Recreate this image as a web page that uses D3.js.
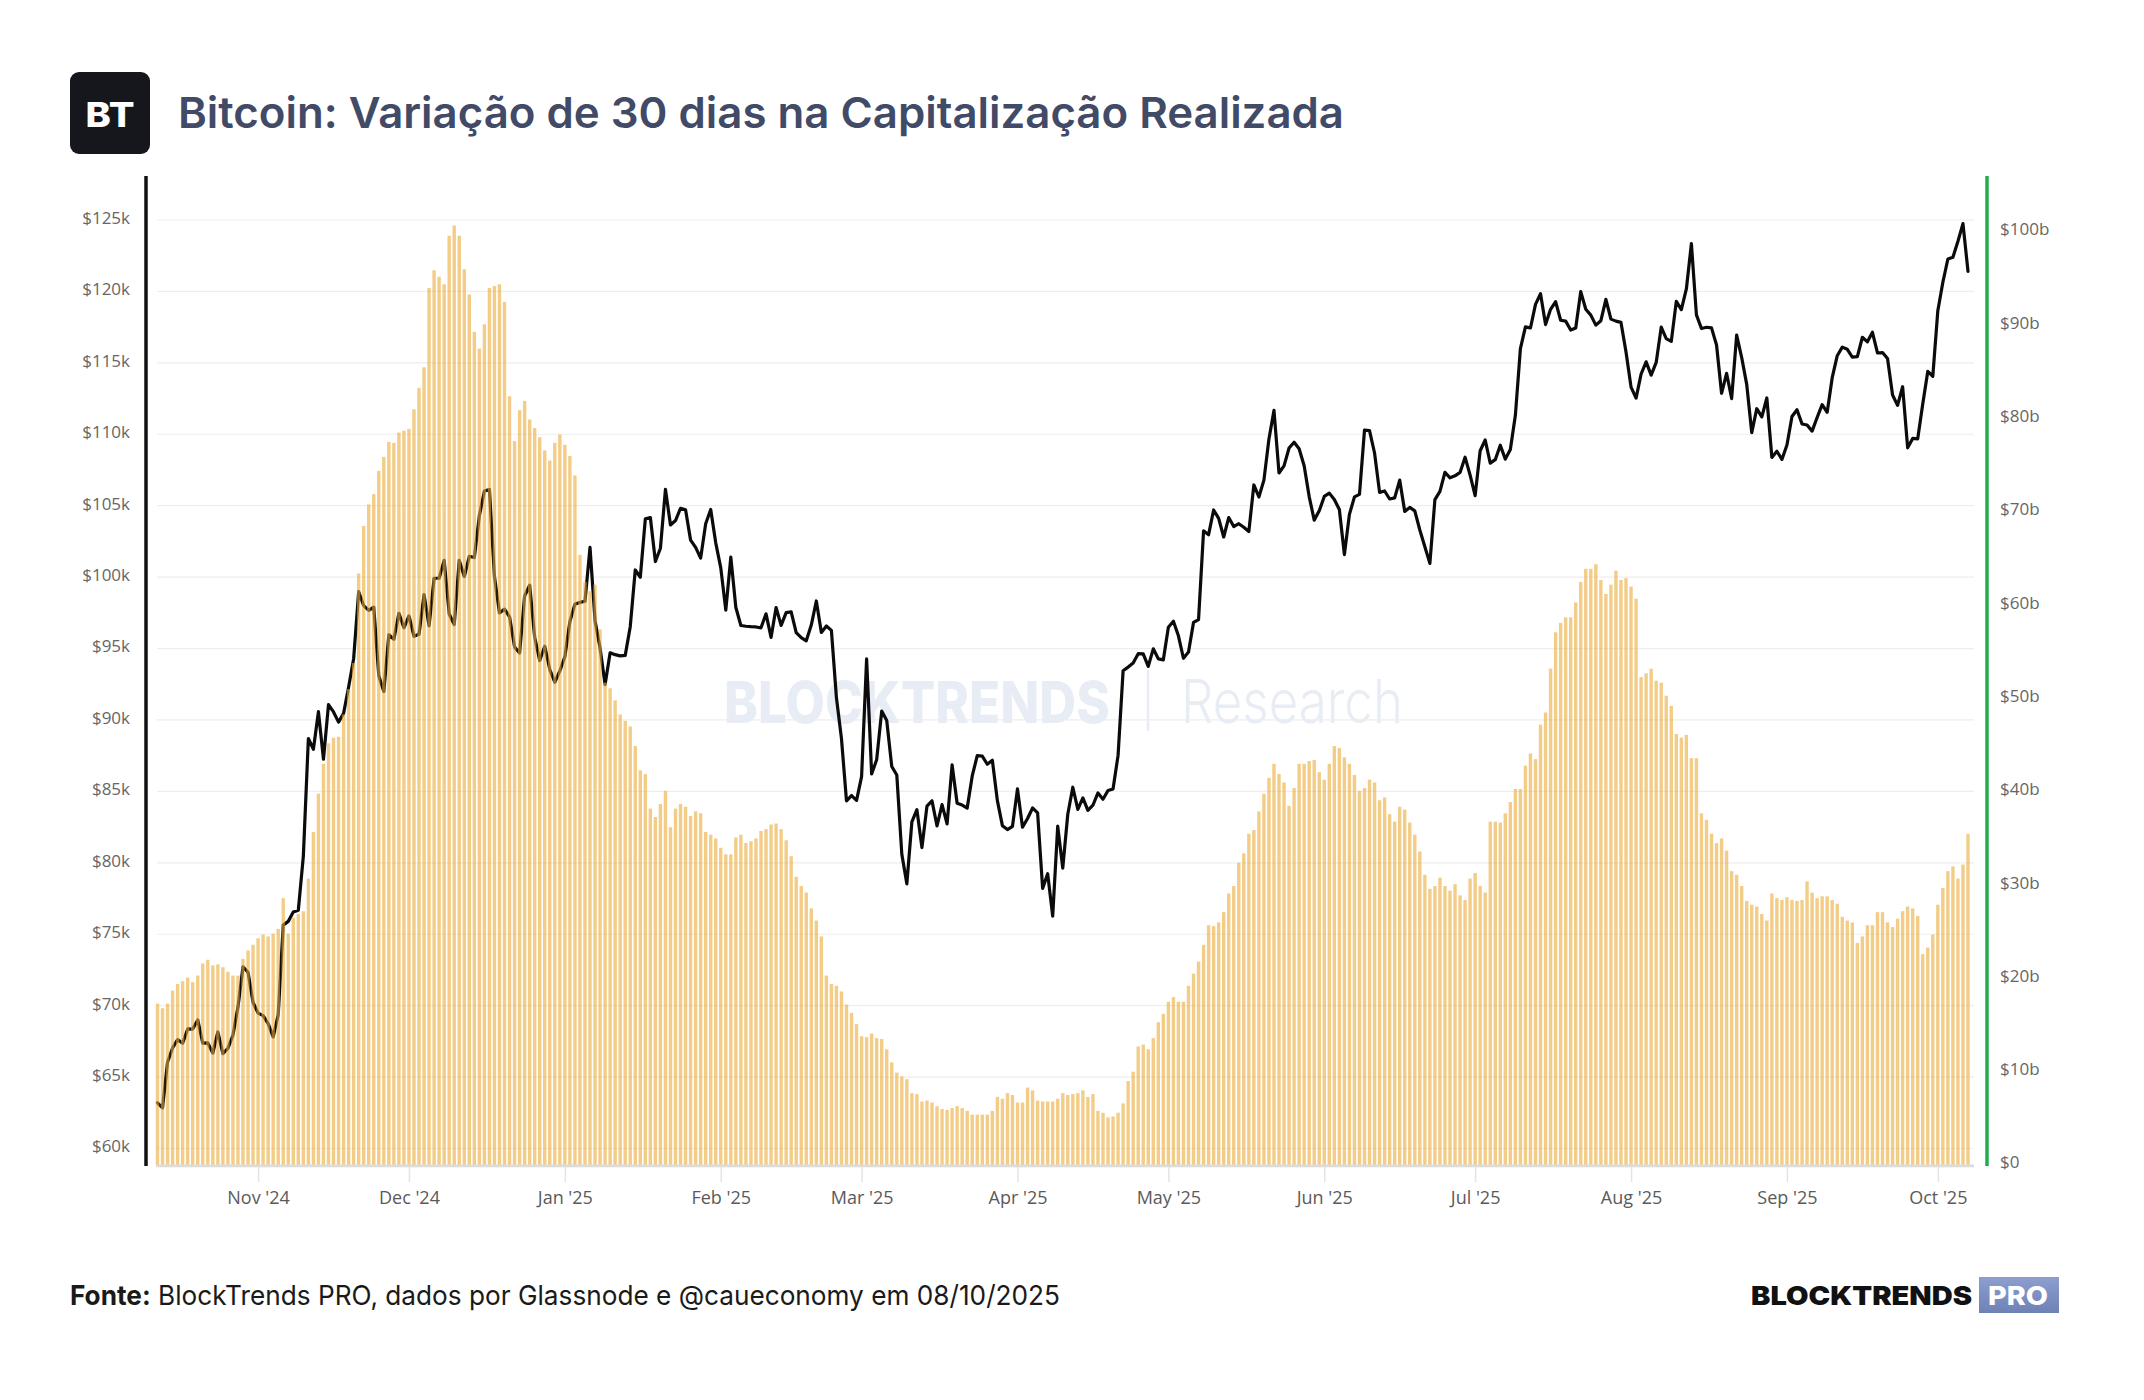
<!DOCTYPE html>
<html lang="pt">
<head>
<meta charset="UTF-8">
<title>Bitcoin: Variação de 30 dias na Capitalização Realizada</title>
<style>
  html, body { margin: 0; padding: 0; background: #fff; }
  svg { display: block; }
</style>
</head>
<body>
<script src="https://d3js.org/d3.v7.min.js"></script>
<script>
const W = 2144, H = 1400;

const titleText = "Bitcoin: Variação de 30 dias na Capitalização Realizada";
const sourceBold = "Fonte:";
const sourceText = " BlockTrends PRO, dados por Glassnode e @caueconomy em 08/10/2025";

// daily values, 12 Oct 2024 -> 7 Oct 2025
const firstDay = Date.UTC(2024, 9, 12);
const lastDay = Date.UTC(2025, 9, 7);

// BTC price (USD), left axis
const btcPrice = [
  // Oct '24
  63200, 62850, 66050, 67040, 67620, 67370, 68370, 68360, 69000, 67370,
  67390, 66680, 68160, 66640, 67010, 67930, 69900, 72720, 72340, 70220,
  // Nov '24
  69480, 69300, 68740, 67810, 69360, 75640, 75900, 76550, 76680, 80470,
  88700, 87950, 90580, 87250, 91070, 90560, 89850, 90460, 92310, 94290,
  98980, 98000, 97670, 97900, 93100, 91990, 95960, 95650, 97460, 96450,
  // Dec '24
  97280, 95860, 96000, 98770, 96590, 99920, 99920, 101170, 97420, 96680,
  101170, 100040, 101460, 101370, 104300, 106030, 106140, 100040, 97490, 97760,
  97220, 95100, 94690, 98680, 99430, 95790, 94160, 95160, 93530, 92640, 93430,
  // Jan '25
  94420, 96890, 98110, 98230, 98310, 102080, 96950, 95040, 92480, 94700,
  94570, 94490, 94520, 96530, 100500, 99990, 104080, 104170, 101090, 102020,
  106150, 103650, 103960, 104820, 104710, 102590, 102080, 101330, 103730, 104740, 102400,
  // Feb '25
  100650, 97690, 101400, 97870, 96610, 96560, 96530, 96510, 96450, 97430,
  95780, 97870, 96620, 97510, 97570, 96120, 95770, 95540, 96640, 98330,
  96130, 96580, 96270, 91550, 88690, 84340, 84710, 84370,
  // Mar '25
  86030, 94270, 86220, 87220, 90620, 89960, 86740, 86150, 80600, 78530,
  82860, 83720, 81070, 83970, 84340, 82580, 84080, 82720, 86850, 84170,
  84040, 83830, 86080, 87500, 87470, 86900, 87180, 84350, 82600, 82330, 82550,
  // Apr '25
  85170, 82490, 83100, 83840, 83500, 78210, 79240, 76270, 82570, 79630,
  83400, 85290, 83740, 84540, 83670, 84030, 84890, 84450, 85060, 85170,
  87520, 93440, 93700, 93980, 94640, 94630, 93750, 94980, 94280, 94210,
  // May '25
  96490, 96910, 95890, 94320, 94750, 96830, 97030, 103240, 102970, 104700,
  104110, 102810, 104170, 103540, 103740, 103490, 103190, 106450, 105610, 106790,
  109670, 111670, 107290, 107790, 109040, 109440, 108990, 107800, 105640, 103990, 104640,
  // Jun '25
  105650, 105880, 105430, 104730, 101580, 104390, 105620, 105790, 110290, 110260,
  108690, 105930, 106030, 105470, 105550, 106790, 104600, 104880, 104640, 103300,
  102120, 100960, 105420, 106000, 107340, 106950, 107090, 107330, 108390, 107140,
  // Jul '25
  105700, 108850, 109600, 107980, 108220, 109230, 108260, 108940, 111330, 115990,
  117520, 117440, 119090, 119840, 117680, 118750, 119290, 117980, 117920, 117300,
  117440, 119990, 118750, 118340, 117640, 117950, 119450, 118060, 117920, 117830, 115760,
  // Aug '25
  113300, 112530, 114220, 115070, 114140, 115030, 117500, 116690, 116500, 119300,
  118730, 120170, 123340, 118360, 117400, 117490, 117450, 116250, 112870, 114270,
  112500, 116940, 115370, 113490, 110110, 111790, 111220, 112540, 108380, 108810, 108240,
  // Sep '25
  109250, 111240, 111720, 110720, 110650, 110220, 111170, 112070, 111540, 113960,
  115500, 116100, 115950, 115400, 115440, 116790, 116470, 117140, 115690, 115720,
  115310, 112750, 112020, 113330, 109050, 109710, 109680, 112120, 114400, 114060,
  // Oct '25
  118650, 120640, 122270, 122390, 123510, 124750, 121400
];

// 30-day change of realized cap (USD billions), right axis
const realizedCapChange = [
  17.3, 16.8, 17.3, 18.7, 19.4, 19.7, 20.1, 19.6, 20.3, 21.6,
  22.0, 21.4, 21.5, 21.2, 20.7, 20.3, 20.3, 22.1, 23.0, 23.6,
  24.3, 24.7, 24.5, 24.8, 25.3, 28.6, 24.8, 26.5, 26.9, 27.2,
  30.7, 35.7, 39.8, 43.0, 45.2, 45.8, 45.9, 48.3, 51.0, 53.8,
  63.4, 68.5, 70.8, 71.9, 74.4, 75.9, 77.5, 77.4, 78.5, 78.7,
  78.9, 81.0, 83.3, 85.5, 94.0, 95.9, 95.2, 94.4, 99.6, 100.7,
  99.6, 96.0, 93.3, 89.3, 87.5, 90.1, 94.0, 94.2, 94.4, 92.5,
  82.4, 77.6, 80.9, 81.9, 79.9, 79.0, 78.0, 76.6, 75.5, 77.4,
  78.3, 77.2, 76.0, 73.9, 65.4, 62.5, 61.5, 62.2, 57.4, 51.7,
  51.1, 49.8, 48.3, 47.6, 47.0, 44.9, 42.3, 41.9, 38.2, 37.3,
  38.7, 40.1, 36.2, 38.2, 38.7, 38.4, 37.4, 37.9, 37.7, 35.7,
  35.4, 35.0, 34.0, 33.3, 33.3, 35.1, 35.4, 34.5, 34.7, 35.0,
  35.8, 36.0, 36.5, 36.6, 36.0, 34.8, 33.1, 30.9, 29.9, 29.2,
  27.5, 26.2, 24.5, 20.3, 19.4, 19.2, 18.6, 17.2, 16.3, 15.1,
  13.8, 13.7, 14.1, 13.6, 13.5, 12.4, 11.0, 9.9, 9.5, 9.2,
  7.7, 7.6, 6.8, 6.9, 6.7, 6.3, 6.0, 5.9, 6.1, 6.3,
  6.1, 5.8, 5.4, 5.4, 5.4, 5.4, 5.8, 7.3, 7.1, 7.7,
  7.5, 6.7, 6.7, 8.3, 8.0, 6.9, 6.8, 6.8, 6.8, 7.1,
  7.7, 7.5, 7.6, 7.7, 8.0, 7.3, 7.6, 5.8, 5.6, 5.1,
  5.2, 5.6, 6.6, 9.0, 10.0, 12.7, 12.9, 12.4, 13.6, 15.3,
  16.2, 17.5, 18.0, 17.5, 17.5, 19.2, 20.5, 21.8, 23.6, 25.7,
  25.6, 26.0, 27.1, 29.1, 29.9, 32.4, 33.4, 35.5, 35.9, 37.9,
  39.8, 41.5, 43.0, 41.9, 41.0, 38.5, 40.4, 43.0, 43.0, 43.3,
  43.4, 42.1, 41.3, 43.0, 44.9, 44.7, 43.7, 43.0, 41.8, 40.1,
  40.4, 41.3, 41.0, 39.1, 39.4, 37.6, 36.8, 38.4, 38.1, 36.7,
  35.4, 33.6, 31.1, 29.6, 29.9, 30.8, 29.9, 29.4, 30.1, 28.9,
  28.4, 30.7, 31.3, 29.9, 29.2, 36.8, 36.8, 36.7, 37.7, 38.9,
  40.3, 40.3, 42.8, 44.1, 43.5, 47.2, 48.5, 53.2, 57.1, 58.1,
  58.7, 58.7, 60.3, 62.5, 63.9, 63.9, 64.4, 62.7, 61.2, 62.2,
  63.7, 62.7, 62.9, 62.0, 60.7, 52.3, 52.7, 53.2, 51.9, 51.7,
  50.3, 49.2, 46.2, 45.8, 46.1, 43.6, 43.6, 37.7, 37.0, 35.5,
  34.5, 35.0, 33.7, 31.5, 31.1, 29.9, 28.3, 27.9, 27.7, 26.9,
  26.2, 29.1, 28.6, 28.4, 28.7, 28.4, 28.3, 28.4, 30.4, 29.2,
  28.6, 28.8, 28.8, 28.4, 28.0, 26.6, 26.2, 26.0, 23.8, 24.5,
  25.7, 25.7, 27.1, 27.1, 26.0, 25.5, 26.4, 27.2, 27.7, 27.5,
  26.7, 22.6, 23.3, 24.7, 27.9, 29.7, 31.5, 32.0, 30.7, 32.2, 35.5
];

const leftTicks = [60000, 65000, 70000, 75000, 80000, 85000, 90000, 95000, 100000, 105000, 110000, 115000, 120000, 125000];
const rightTicks = [0, 10, 20, 30, 40, 50, 60, 70, 80, 90, 100];

const dates = d3.utcDay.range(new Date(firstDay), new Date(lastDay + 864e5));

const svg = d3.select("body").append("svg")
    .attr("width", W)
    .attr("height", H);

svg.append("rect").attr("width", W).attr("height", H).attr("fill", "#fff");

// header
svg.append("rect")
    .attr("x", 70).attr("y", 72)
    .attr("width", 80).attr("height", 82)
    .attr("rx", 9)
    .attr("fill", "#15171c");
svg.append("text")
    .attr("x", 110).attr("y", 127)
    .attr("text-anchor", "middle")
    .attr("font-family", "Inter, sans-serif")
    .attr("font-weight", 800)
    .attr("font-size", 34)
    .attr("fill", "#fff")
    .attr("textLength", 49)
    .attr("lengthAdjust", "spacingAndGlyphs")
    .text("BT");
svg.append("text")
    .attr("x", 178).attr("y", 127.5)
    .attr("font-family", "Inter, sans-serif")
    .attr("font-weight", 600)
    .attr("font-size", 43)
    .attr("fill", "#414a66")
    .attr("textLength", 1166)
    .attr("lengthAdjust", "spacingAndGlyphs")
    .text(titleText);

// scales
const x = d3.scaleUtc()
    .domain([dates[0], dates[dates.length - 1]])
    .range([157.5, 1968]);
const yL = d3.scaleLinear().domain([60000, 125000]).range([1148.5, 220]);
const yR = d3.scaleLinear().domain([0, 100]).range([1165, 232]);

// gridlines
svg.append("g")
    .selectAll("line")
    .data(leftTicks)
    .join("line")
    .attr("x1", 157).attr("x2", 1974)
    .attr("y1", d => yL(d)).attr("y2", d => yL(d))
    .attr("stroke", "#eeeeee")
    .attr("stroke-width", 1.2);

// watermark
const wm = svg.append("g").attr("fill", "#e8edf5");
wm.append("text")
    .attr("x", 724).attr("y", 723)
    .attr("font-family", "Inter, sans-serif")
    .attr("font-weight", 800)
    .attr("font-size", 58)
    .attr("textLength", 386)
    .attr("lengthAdjust", "spacingAndGlyphs")
    .text("BLOCKTRENDS");
wm.append("line")
    .attr("x1", 1148).attr("x2", 1148)
    .attr("y1", 670).attr("y2", 731)
    .attr("stroke", "#e8edf5").attr("stroke-width", 2.5);
wm.append("text")
    .attr("x", 1181).attr("y", 723)
    .attr("font-family", "Inter, sans-serif")
    .attr("font-weight", 300)
    .attr("font-size", 60)
    .attr("textLength", 222)
    .attr("lengthAdjust", "spacingAndGlyphs")
    .text("Research");

// price line (under the translucent bars)
const line = d3.line()
    .x((d, i) => x(dates[i]))
    .y(d => yL(d));
svg.append("path")
    .datum(btcPrice)
    .attr("d", line)
    .attr("fill", "none")
    .attr("stroke", "#0b0b0b")
    .attr("stroke-width", 3.2)
    .attr("stroke-linejoin", "round")
    .attr("stroke-linecap", "round");

// bars
const barW = 3.4;
svg.append("g")
    .selectAll("rect")
    .data(realizedCapChange)
    .join("rect")
    .attr("x", (d, i) => x(dates[i]) - barW / 2)
    .attr("y", d => yR(d))
    .attr("width", barW)
    .attr("height", d => yR(0) - yR(d))
    .attr("fill", "rgb(235,172,55)")
    .attr("fill-opacity", 0.6);

// bottom band
svg.append("rect")
    .attr("x", 156).attr("y", 1164.5)
    .attr("width", 1818).attr("height", 2.8)
    .attr("fill", "#dcdcdc");

// x axis
const xAxis = svg.append("g")
    .attr("transform", "translate(0,1167)")
    .call(d3.axisBottom(x)
        .ticks(d3.utcMonth.every(1))
        .tickFormat(d3.utcFormat("%b '%y"))
        .tickSize(15)
        .tickPadding(9));
xAxis.select(".domain").remove();
xAxis.selectAll(".tick line").attr("stroke", "#e4e4e4").attr("stroke-width", 1.5);
xAxis.selectAll("text")
    .attr("fill", "#5a5a5a")
    .attr("font-family", "'Open Sans', sans-serif")
    .attr("font-size", 18);

// left axis
const leftAxis = svg.append("g")
    .attr("transform", "translate(146,0)")
    .call(d3.axisLeft(yL)
        .tickValues(leftTicks)
        .tickFormat(d => "$" + d / 1000 + "k")
        .tickSize(0)
        .tickPadding(16));
leftAxis.select(".domain").remove();
leftAxis.selectAll("text")
    .attr("y", -2)
    .attr("fill", "#666")
    .attr("font-family", "'Open Sans', sans-serif")
    .attr("font-size", 17);

// right axis
const rightAxis = svg.append("g")
    .attr("transform", "translate(1987,0)")
    .call(d3.axisRight(yR)
        .tickValues(rightTicks)
        .tickFormat(d => d === 0 ? "$0" : "$" + d + "b")
        .tickSize(0)
        .tickPadding(13));
rightAxis.select(".domain").remove();
rightAxis.selectAll("text")
    .attr("y", -2.5)
    .attr("fill", "#666")
    .attr("font-family", "'Open Sans', sans-serif")
    .attr("font-size", 17);

// axis lines
svg.append("line")
    .attr("x1", 146).attr("x2", 146)
    .attr("y1", 176).attr("y2", 1166)
    .attr("stroke", "#111").attr("stroke-width", 3.5);
svg.append("line")
    .attr("x1", 1987).attr("x2", 1987)
    .attr("y1", 176).attr("y2", 1166)
    .attr("stroke", "#1fae4b").attr("stroke-width", 3.5);

// footer
const src = svg.append("text")
    .attr("x", 70).attr("y", 1305)
    .attr("font-family", "Inter, sans-serif")
    .attr("font-size", 27.5)
    .attr("fill", "#1a1a1a")
    .attr("textLength", 990)
    .attr("lengthAdjust", "spacingAndGlyphs");
src.append("tspan").attr("font-weight", 700).text(sourceBold);
src.append("tspan").attr("font-weight", 400).text(sourceText);

svg.append("text")
    .attr("x", 1751).attr("y", 1305)
    .attr("font-family", "Inter, sans-serif")
    .attr("font-weight", 900)
    .attr("font-size", 26)
    .attr("fill", "#111")
    .attr("textLength", 221)
    .attr("lengthAdjust", "spacingAndGlyphs")
    .text("BLOCKTRENDS");

const proGrad = svg.append("defs").append("linearGradient")
    .attr("id", "proGrad")
    .attr("x1", 0).attr("y1", 0).attr("x2", 0).attr("y2", 1);
proGrad.append("stop").attr("offset", "0%").attr("stop-color", "#8d9ecf");
proGrad.append("stop").attr("offset", "100%").attr("stop-color", "#6f82b6");
svg.append("rect")
    .attr("x", 1979).attr("y", 1277)
    .attr("width", 80).attr("height", 36)
    .attr("fill", "url(#proGrad)");
svg.append("text")
    .attr("x", 2018).attr("y", 1305)
    .attr("text-anchor", "middle")
    .attr("font-family", "Inter, sans-serif")
    .attr("font-weight", 800)
    .attr("font-size", 26)
    .attr("fill", "#fff")
    .attr("textLength", 60)
    .attr("lengthAdjust", "spacingAndGlyphs")
    .text("PRO");
</script>
</body>
</html>
